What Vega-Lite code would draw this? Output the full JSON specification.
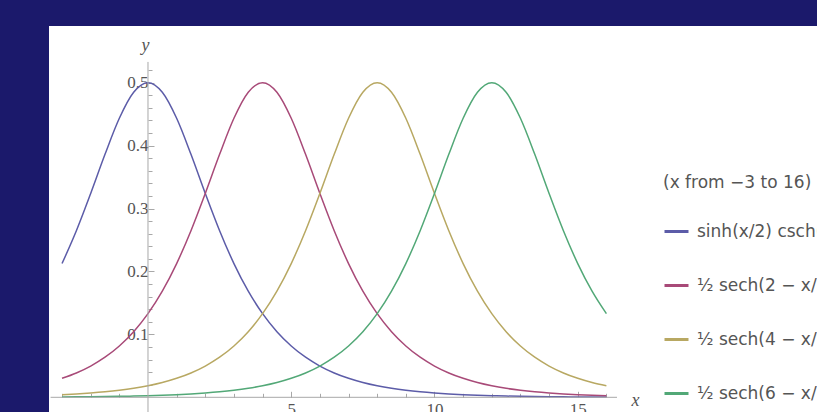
{
  "$schema": "https://vega.github.io/schema/vega-lite/v6.json",
  "width": 768,
  "height": 386,
  "padding": {"left": 49, "top": 26, "right": 0, "bottom": 0},
  "autosize": {"type": "none"},
  "background": "#1b196b",
  "config": {"view": {"fill": "white", "stroke": null}},
  "resolve": {"axis": {"x": "independent", "y": "independent"}},
  "layer": [
    {
      "data": {"values": [
        {"x": -3, "a": 0.21255, "b": 0.03017, "c": 0.00409, "d": 0.00055},
        {"x": -2.5, "a": 0.26477, "b": 0.03872, "c": 0.00525, "d": 0.00071},
        {"x": -2, "a": 0.32403, "b": 0.04966, "c": 0.00674, "d": 0.00091},
        {"x": -1.5, "a": 0.38619, "b": 0.06367, "c": 0.00865, "d": 0.00117},
        {"x": -1, "a": 0.44341, "b": 0.08154, "c": 0.01111, "d": 0.0015},
        {"x": -0.5, "a": 0.48477, "b": 0.10424, "c": 0.01426, "d": 0.00193},
        {"x": 0, "a": 0.5, "b": 0.1329, "c": 0.01831, "d": 0.00248},
        {"x": 0.5, "a": 0.48477, "b": 0.16868, "c": 0.0235, "d": 0.00318},
        {"x": 1, "a": 0.44341, "b": 0.21255, "c": 0.03017, "d": 0.00409},
        {"x": 1.5, "a": 0.38619, "b": 0.26477, "c": 0.03872, "d": 0.00525},
        {"x": 2, "a": 0.32403, "b": 0.32403, "c": 0.04966, "d": 0.00674},
        {"x": 2.5, "a": 0.26477, "b": 0.38619, "c": 0.06367, "d": 0.00865},
        {"x": 3, "a": 0.21255, "b": 0.44341, "c": 0.08154, "d": 0.01111},
        {"x": 3.5, "a": 0.16868, "b": 0.48477, "c": 0.10424, "d": 0.01426},
        {"x": 4, "a": 0.1329, "b": 0.5, "c": 0.1329, "d": 0.01831},
        {"x": 4.5, "a": 0.10424, "b": 0.48477, "c": 0.16868, "d": 0.0235},
        {"x": 5, "a": 0.08154, "b": 0.44341, "c": 0.21255, "d": 0.03017},
        {"x": 5.5, "a": 0.06367, "b": 0.38619, "c": 0.26477, "d": 0.03872},
        {"x": 6, "a": 0.04966, "b": 0.32403, "c": 0.32403, "d": 0.04966},
        {"x": 6.5, "a": 0.03872, "b": 0.26477, "c": 0.38619, "d": 0.06367},
        {"x": 7, "a": 0.03017, "b": 0.21255, "c": 0.44341, "d": 0.08154},
        {"x": 7.5, "a": 0.0235, "b": 0.16868, "c": 0.48477, "d": 0.10424},
        {"x": 8, "a": 0.01831, "b": 0.1329, "c": 0.5, "d": 0.1329},
        {"x": 8.5, "a": 0.01426, "b": 0.10424, "c": 0.48477, "d": 0.16868},
        {"x": 9, "a": 0.01111, "b": 0.08154, "c": 0.44341, "d": 0.21255},
        {"x": 9.5, "a": 0.00865, "b": 0.06367, "c": 0.38619, "d": 0.26477},
        {"x": 10, "a": 0.00674, "b": 0.04966, "c": 0.32403, "d": 0.32403},
        {"x": 10.5, "a": 0.00525, "b": 0.03872, "c": 0.26477, "d": 0.38619},
        {"x": 11, "a": 0.00409, "b": 0.03017, "c": 0.21255, "d": 0.44341},
        {"x": 11.5, "a": 0.00318, "b": 0.0235, "c": 0.16868, "d": 0.48477},
        {"x": 12, "a": 0.00248, "b": 0.01831, "c": 0.1329, "d": 0.5},
        {"x": 12.5, "a": 0.00193, "b": 0.01426, "c": 0.10424, "d": 0.48477},
        {"x": 13, "a": 0.0015, "b": 0.01111, "c": 0.08154, "d": 0.44341},
        {"x": 13.5, "a": 0.00117, "b": 0.00865, "c": 0.06367, "d": 0.38619},
        {"x": 14, "a": 0.00091, "b": 0.00674, "c": 0.04966, "d": 0.32403},
        {"x": 14.5, "a": 0.00071, "b": 0.00525, "c": 0.03872, "d": 0.26477},
        {"x": 15, "a": 0.00055, "b": 0.00409, "c": 0.03017, "d": 0.21255},
        {"x": 15.5, "a": 0.00043, "b": 0.00318, "c": 0.0235, "d": 0.16868},
        {"x": 16, "a": 0.00034, "b": 0.00248, "c": 0.01831, "d": 0.1329}
      ]},
      "transform": [{"fold": ["a", "b", "c", "d"], "as": ["series", "y"]}],
      "mark": {"type": "line", "interpolate": "monotone", "strokeWidth": 1.5},
      "encoding": {
        "x": {
          "field": "x", "type": "quantitative",
          "scale": {"domain": [-3.455, 23.351], "nice": false, "zero": false},
          "axis": {
            "orient": "bottom", "offset": -14.7, "domain": false, "grid": false,
            "values": [-3, -2, -1, 1, 2, 3, 4, 5, 6, 7, 8, 9, 10, 11, 12, 13, 14, 15, 16],
            "labelExpr": "datum.value % 5 == 0 ? datum.label : ''",
            "tickSize": {"condition": {"test": "datum.value % 5 == 0", "value": -6}, "value": -4},
            "tickColor": "#a8a8a8",
            "labelFont": "Liberation Serif", "labelFontSize": 17, "labelColor": "#555555",
            "labelPadding": 10, "labelBaseline": "top", "labelFlush": false, "labelOverlap": false,
            "title": "x", "titleFont": "Liberation Serif", "titleFontStyle": "italic",
            "titleFontWeight": "normal", "titleFontSize": 18, "titleColor": "#555555",
            "titleAngle": 0, "titleX": 586, "titleY": 3, "titleAlign": "center", "titleBaseline": "middle"
          }
        },
        "y": {
          "field": "y", "type": "quantitative",
          "scale": {"domain": [-0.02336, 0.5901], "nice": false, "zero": false},
          "axis": {
            "orient": "left", "offset": -99, "domain": false, "grid": false,
            "values": [0.02, 0.04, 0.06, 0.08, 0.1, 0.12, 0.14, 0.16, 0.18, 0.2, 0.22, 0.24, 0.26, 0.28, 0.3, 0.32, 0.34, 0.36, 0.38, 0.4, 0.42, 0.44, 0.46, 0.48, 0.5, 0.52],
            "format": ".1f",
            "labelExpr": "abs(datum.value * 10 - round(datum.value * 10)) < 0.001 ? datum.label : ''",
            "tickSize": {"condition": {"test": "abs(datum.value * 10 - round(datum.value * 10)) < 0.001", "value": -6}, "value": -4},
            "tickColor": "#a8a8a8",
            "labelFont": "Liberation Serif", "labelFontSize": 17, "labelColor": "#555555",
            "labelPadding": 6, "labelFlush": false, "labelOverlap": false,
            "title": "y", "titleFont": "Liberation Serif", "titleFontStyle": "italic",
            "titleFontWeight": "normal", "titleFontSize": 18, "titleColor": "#555555",
            "titleAngle": 0, "titleX": -3, "titleY": 19, "titleAlign": "center", "titleBaseline": "middle"
          }
        },
        "color": {
          "field": "series", "type": "nominal",
          "scale": {"domain": ["a", "b", "c", "d"], "range": ["#5c5ca8", "#a84a78", "#b8a862", "#52a877"]},
          "legend": {
            "orient": "none", "legendX": 614, "legendY": 149,
            "title": "(x from −3 to 16)",
            "titleFont": "DejaVu Sans", "titleFontSize": 17, "titleFontWeight": "normal", "titleColor": "#555555",
            "titlePadding": 26,
            "labelExpr": "datum.label == 'a' ? 'sinh(x/2) csch(x)' : datum.label == 'b' ? '½ sech(2 − x/2)' : datum.label == 'c' ? '½ sech(4 − x/2)' : '½ sech(6 − x/2)'",
            "labelFont": "DejaVu Sans", "labelFontSize": 17, "labelColor": "#555555",
            "labelOffset": 7,
            "symbolType": "stroke", "symbolSize": 576, "symbolStrokeWidth": 3,
            "rowPadding": 32
          }
        }
      }
    },
    {
      "data": {"values": [{}]},
      "mark": {"type": "rule", "color": "#a8a8a8", "strokeWidth": 1},
      "encoding": {
        "x": {"datum": -3.4, "type": "quantitative", "axis": null},
        "x2": {"datum": 16.37},
        "y": {"datum": 0, "type": "quantitative", "axis": null}
      }
    },
    {
      "data": {"values": [{}]},
      "mark": {"type": "rule", "color": "#a8a8a8", "strokeWidth": 1},
      "encoding": {
        "x": {"datum": 0, "type": "quantitative", "axis": null},
        "y": {"datum": -0.0234, "type": "quantitative", "axis": null},
        "y2": {"datum": 0.533}
      }
    }
  ]
}
